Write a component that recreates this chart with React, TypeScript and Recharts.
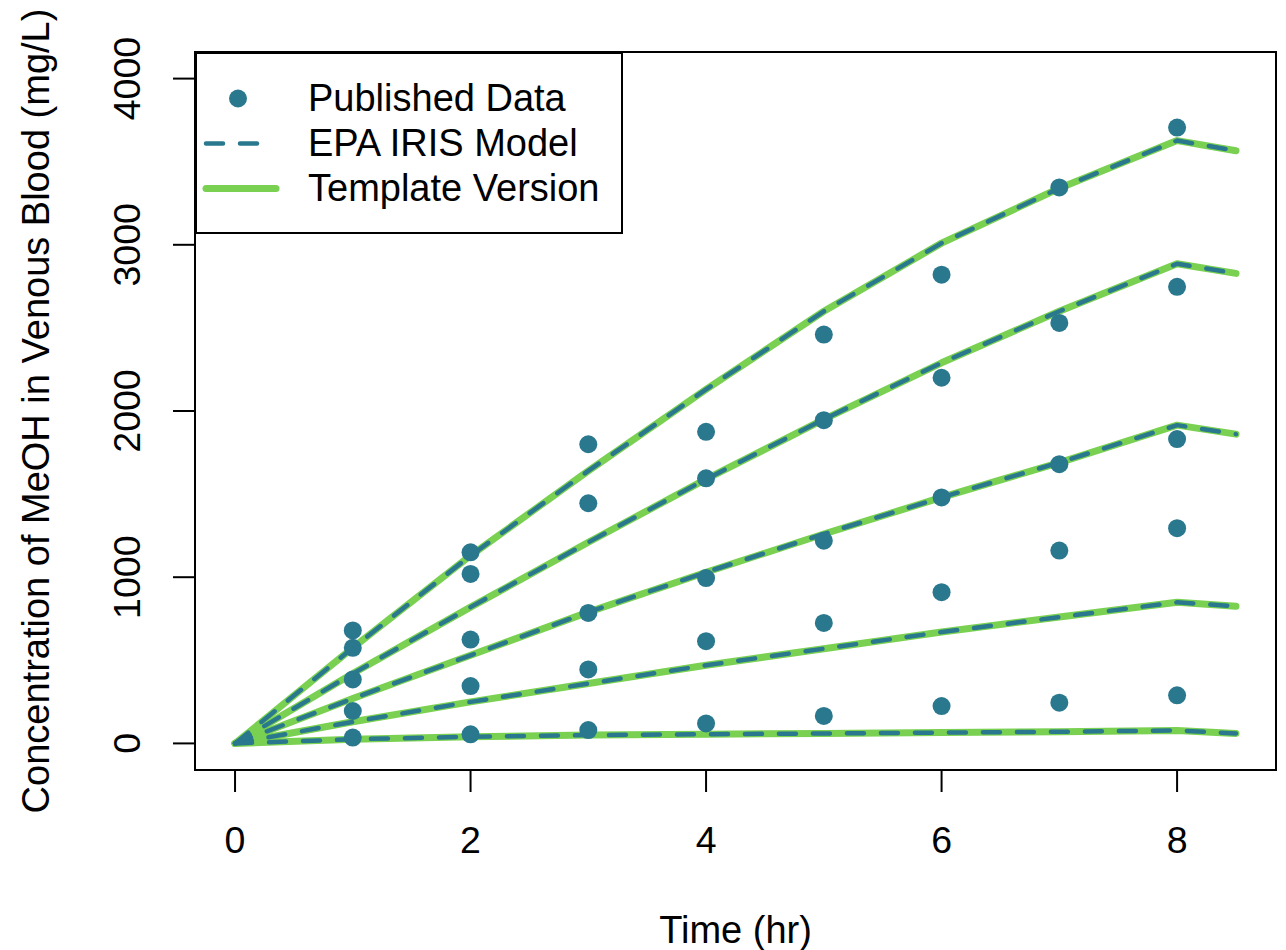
import {
  ComposedChart,
  Line,
  ReferenceArea,
  Scatter,
  XAxis,
  YAxis,
} from "recharts";

const TEAL = "#2A788E";
const GREEN = "#7AD151";
const FONT = '"Liberation Sans", Arial, sans-serif';

// model output times (hr)
const modelTimes = [0, 1, 2, 3, 4, 5, 6, 7, 8, 8.5];

// one curve per exposure level, highest first
const curveA = [0, 575, 1130, 1640, 2130, 2600, 3010, 3340, 3627, 3566];
const curveB = [0, 420, 820, 1210, 1590, 1950, 2290, 2600, 2886, 2828];
const curveC = [0, 270, 530, 790, 1030, 1260, 1480, 1690, 1915, 1861];
const curveD = [0, 130, 250, 360, 470, 570, 670, 760, 849, 825];
const curveE = [0, 25, 40, 50, 55, 60, 65, 70, 78, 60];

// published measurements
const obsTimes = [1, 2, 3, 4, 5, 6, 7, 8];
const obsA = [680, 1150, 1800, 1875, 2460, 2820, 3345, 3705];
const obsB = [575, 1020, 1445, 1595, 1945, 2200, 2530, 2747];
const obsC = [385, 625, 785, 995, 1220, 1480, 1680, 1831];
const obsD = [195, 345, 445, 615, 725, 910, 1160, 1295];
const obsE = [35, 55, 80, 120, 165, 225, 245, 289];

const xTicks = [0, 2, 4, 6, 8];
const yTicks = [0, 1000, 2000, 3000, 4000];

const curves = [curveA, curveB, curveC, curveD, curveE].map((vals) =>
  modelTimes.map((t, i) => ({ t, conc: vals[i] })),
);
const observed = [obsA, obsB, obsC, obsD, obsE].flatMap((vals) =>
  obsTimes.map((t, i) => ({ t, conc: vals[i] })),
);

function XTick(props: any) {
  const { x, y, payload } = props;
  return (
    <text
      x={x}
      y={y + 48}
      textAnchor="middle"
      dominantBaseline="central"
      fontFamily={FONT}
      fontSize={37.5}
      fill="#000"
    >
      {payload.value}
    </text>
  );
}

function YTick(props: any) {
  const { x, y, payload } = props;
  const cx = x - 46;
  return (
    <text
      x={cx}
      y={y}
      transform={`rotate(-90, ${cx}, ${y})`}
      textAnchor="middle"
      dominantBaseline="central"
      fontFamily={FONT}
      fontSize={37.5}
      fill="#000"
    >
      {payload.value}
    </text>
  );
}

function Dot(props: any) {
  return <circle cx={props.cx} cy={props.cy} r={9} fill={TEAL} />;
}

function LegendBox() {
  const rows = [
    { label: "Published Data", kind: "dot" },
    { label: "EPA IRIS Model", kind: "dash" },
    { label: "Template Version", kind: "solid" },
  ];
  return (
    <div
      style={{
        position: "absolute",
        left: 195,
        top: 52,
        width: 428,
        height: 182,
        border: "2px solid #000",
        background: "#fff",
        fontFamily: FONT,
        fontSize: 38,
        boxSizing: "border-box",
      }}
    >
      {rows.map((r, i) => (
        <div
          key={r.label}
          style={{
            position: "absolute",
            left: 0,
            top: 22 + i * 45,
            height: 45,
            display: "flex",
            alignItems: "center",
            whiteSpace: "nowrap",
          }}
        >
          <svg width={111} height={45}>
            {r.kind === "dot" && <circle cx={41} cy={22.5} r={9} fill={TEAL} />}
            {r.kind === "dash" && (
              <line
                x1={9}
                x2={64}
                y1={22.5}
                y2={22.5}
                stroke={TEAL}
                strokeWidth={4.5}
                strokeLinecap="round"
                strokeDasharray="17 17"
              />
            )}
            {r.kind === "solid" && (
              <line
                x1={9}
                x2={79}
                y1={22.5}
                y2={22.5}
                stroke={GREEN}
                strokeWidth={7}
                strokeLinecap="round"
              />
            )}
          </svg>
          <span style={{ lineHeight: "45px" }}>{r.label}</span>
        </div>
      ))}
    </div>
  );
}

export default function App() {
  return (
    <div
      style={{
        position: "absolute",
        left: 0,
        top: 0,
        width: 1286,
        height: 950,
        background: "#fff",
        overflow: "hidden",
      }}
    >
      <ComposedChart
        width={1286}
        height={950}
        margin={{ top: 52, right: 10, bottom: 120, left: 0 }}
      >
        <XAxis
          dataKey="t"
          type="number"
          domain={[-0.34, 8.84]}
          ticks={xTicks}
          allowDataOverflow
          height={60}
          axisLine={false}
          tickSize={22}
          tickMargin={0}
          tickLine={{ stroke: "#000", strokeWidth: 2 }}
          tick={<XTick />}
          interval={0}
        />
        <YAxis
          dataKey="conc"
          type="number"
          domain={[-160, 4160]}
          ticks={yTicks}
          allowDataOverflow
          width={195}
          axisLine={false}
          tickSize={22}
          tickMargin={0}
          tickLine={{ stroke: "#000", strokeWidth: 2 }}
          tick={<YTick />}
          interval={0}
        />
        {curves.map((d, i) => (
          <Line
            key={`g${i}`}
            data={d}
            dataKey="conc"
            type="linear"
            stroke={GREEN}
            strokeWidth={7}
            strokeLinecap="round"
            strokeLinejoin="round"
            dot={false}
            activeDot={false}
            isAnimationActive={false}
          />
        ))}
        {curves.map((d, i) => (
          <Line
            key={`b${i}`}
            data={d}
            dataKey="conc"
            type="linear"
            stroke={TEAL}
            strokeWidth={4.5}
            strokeDasharray="17 17"
            strokeLinecap="round"
            strokeLinejoin="round"
            dot={false}
            activeDot={false}
            isAnimationActive={false}
          />
        ))}
        <Scatter
          data={observed}
          dataKey="conc"
          shape={<Dot />}
          isAnimationActive={false}
        />
        <ReferenceArea
          x1={-0.34}
          x2={8.84}
          y1={-160}
          y2={4160}
          fill="none"
          fillOpacity={0}
          stroke="#000"
          strokeWidth={2}
          ifOverflow="visible"
        />
      </ComposedChart>
      <LegendBox />
      <div
        style={{
          position: "absolute",
          left: 195,
          width: 1081,
          top: 905,
          textAlign: "center",
          fontFamily: FONT,
          fontSize: 38,
          lineHeight: "50px",
        }}
      >
        Time (hr)
      </div>
      <div
        style={{
          position: "absolute",
          left: 36,
          top: 411,
          transform: "translate(-50%, -50%) rotate(-90deg)",
          whiteSpace: "nowrap",
          fontFamily: FONT,
          fontSize: 38,
          lineHeight: "50px",
        }}
      >
        Concentration of MeOH in Venous Blood (mg/L)
      </div>
    </div>
  );
}
